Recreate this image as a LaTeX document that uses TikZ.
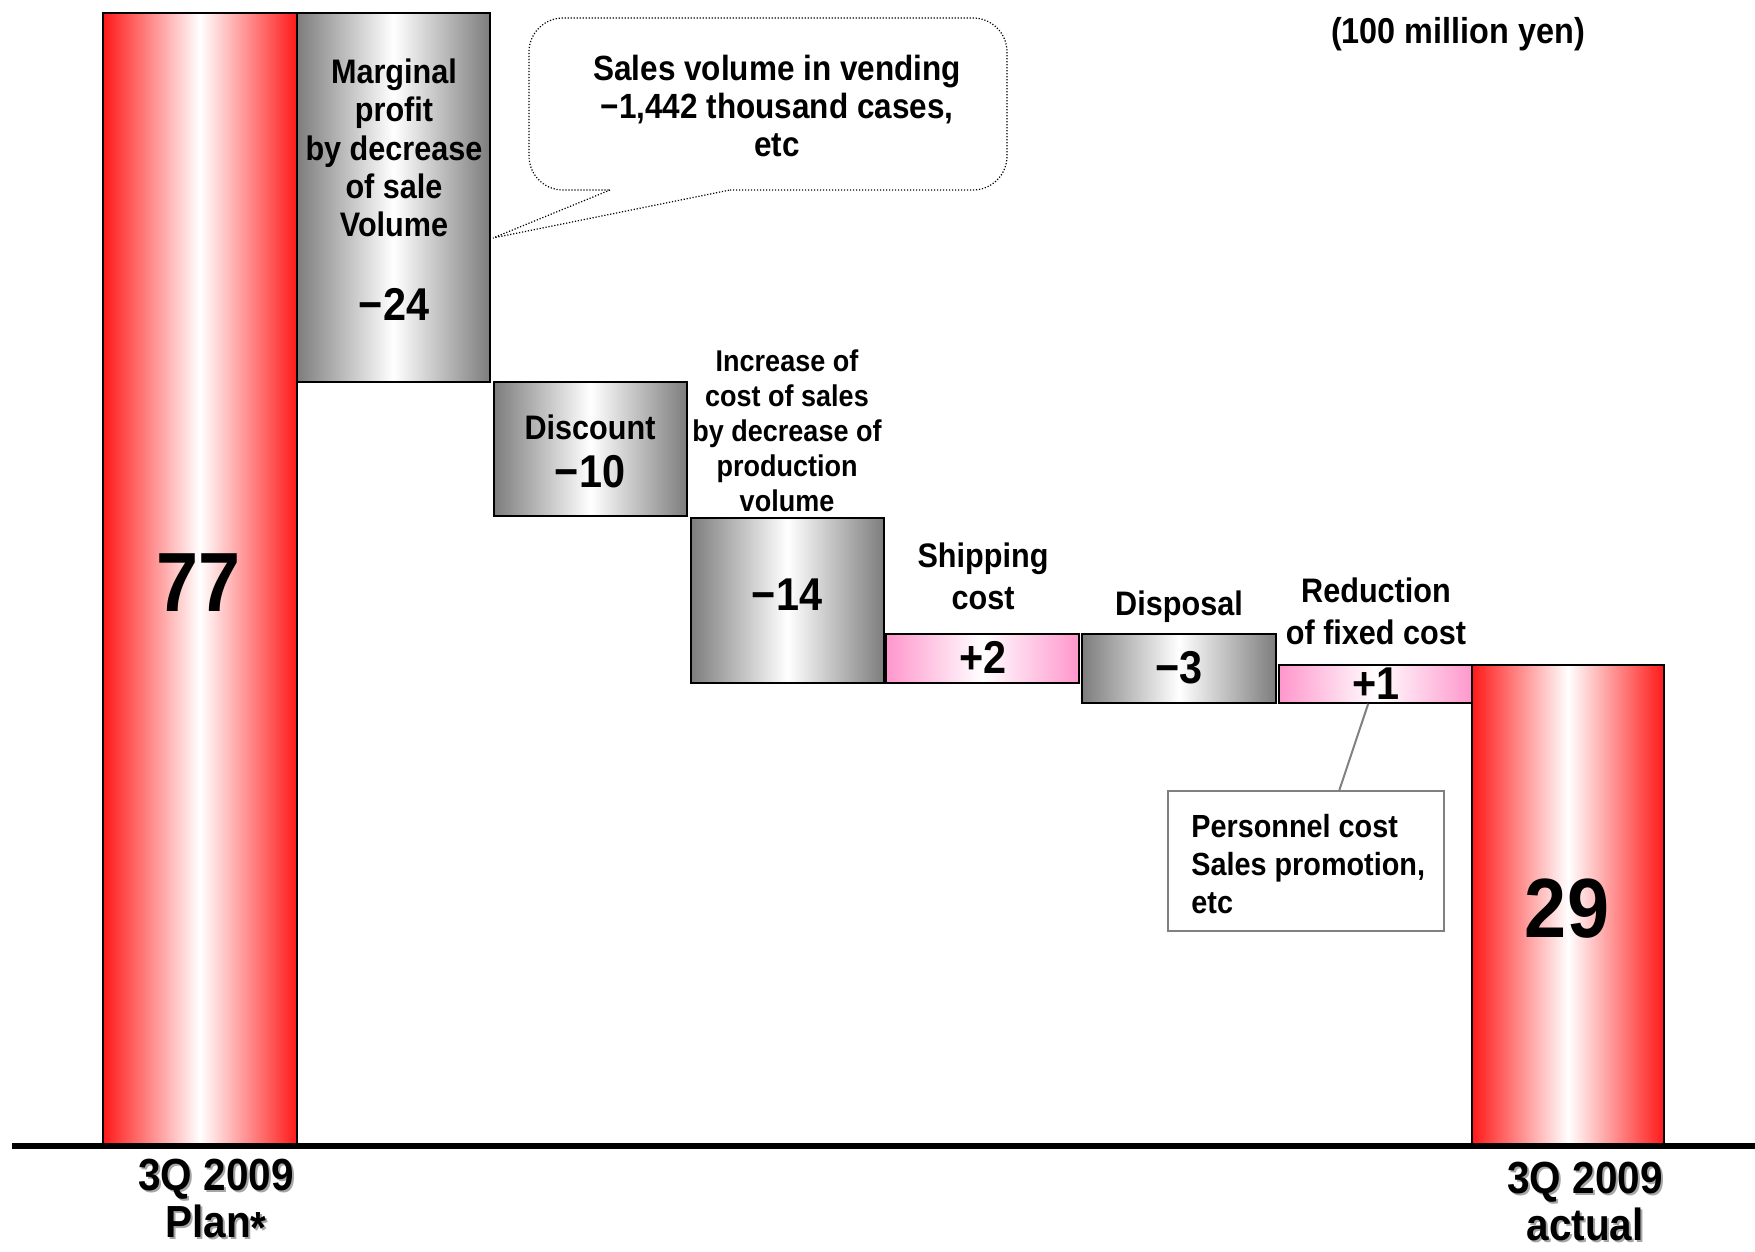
\documentclass[tikz,border=0pt]{standalone}
\usepackage{fontspec}
\setmainfont{Liberation Sans}[FakeStretch=0.9]
\usetikzlibrary{calc,fit}

\definecolor{barred}{RGB}{255,25,25}
\definecolor{bargray}{RGB}{125,125,125}
\definecolor{barpink}{RGB}{255,150,204}
\definecolor{notegray}{RGB}{128,128,128}

\tikzset{
  barbox/.style={draw=black, line width=0.8pt, inner sep=0pt},
  redbar/.style={barbox, left color=barred, right color=barred, middle color=white},
  graybar/.style={barbox, left color=bargray, right color=bargray, middle color=white},
  pinkbar/.style={barbox, left color=barpink, right color=barpink, middle color=white},
  txt/.style={inner sep=0pt, align=center, font=\bfseries\fontsize{17}{19.2}\selectfont},
  smalltxt/.style={inner sep=0pt, align=center, font=\bfseries\fontsize{15}{17.5}\selectfont},
  midtxt/.style={inner sep=0pt, align=center, font=\bfseries\fontsize{17}{21}\selectfont},
  numtxt/.style={inner sep=0pt, font=\bfseries\fontsize{23}{26}\selectfont},
  bignum/.style={inner sep=0pt, font=\bfseries\fontsize{42}{46}\selectfont},
  axislbl/.style={inner sep=0pt, align=center, font=\bfseries\fontsize{22.5}{23.5}\selectfont},
  callout/.style={draw=black, line width=0.6pt, dash pattern=on 0.6pt off 0.9pt},
}

\begin{document}
\begin{tikzpicture}[x=0.5pt, y=-0.5pt]
  \useasboundingbox (0,0) rectangle (1755,1252);

  % waterfall bars
  \node[redbar,  fit={(103,13) (297,1144)}]  (plan)   {};
  \node[graybar, fit={(297,13) (490,382)}]   (vol)    {};
  \node[graybar, fit={(494,382) (687,516)}]  (disc)   {};
  \node[graybar, fit={(691,518) (884,683)}]  (cost)   {};
  \node[pinkbar, fit={(886,634) (1079,683)}] (ship)   {};
  \node[graybar, fit={(1082,634) (1276,703)}](disp)   {};
  \node[pinkbar, fit={(1279,665) (1473,703)}](fixed)  {};
  \node[redbar,  fit={(1472,665) (1664,1144)}](actual) {};

  % base line
  \coordinate (axisL) at (12,1146);
  \coordinate (axisR) at (1755,1146);
  \draw[line width=3pt] (axisL) -- (axisR);

  % bar labels
  \node[bignum] (v77) at (199,583) {77};
  \node[txt] (volname) at (394,148) {Marginal\\profit\\by decrease\\of sale\\Volume};
  \node[numtxt] (v24) at (394,304) {−24};
  \node[txt] (discname) at (590,427) {Discount};
  \node[numtxt] (v10) at (590,472) {−10};
  \node[smalltxt] (costname) at (787,431) {Increase of\\cost of sales\\by decrease of\\production\\volume};
  \node[numtxt] (v14) at (787,595) {−14};
  \node[midtxt] (shipname) at (983,576) {Shipping\\cost};
  \node[numtxt] (v2) at (983,657) {+2};
  \node[midtxt] (dispname) at (1179,607) {Disposal};
  \node[numtxt] (v3) at (1179,668) {−3};
  \node[midtxt] (fixedname) at (1376,611) {Reduction\\of fixed cost};
  \node[numtxt] (v1) at (1376,684) {+1};
  \node[bignum] (v29) at (1567,909) {29};

  % unit
  \node[txt, font=\bfseries\fontsize{18}{20}\selectfont] (unit) at (1458,34) {(100 million yen)};

  % callout for sales volume
  \node[txt, font=\bfseries\fontsize{17.5}{19}\selectfont] (calltext) at (777,106)
    {Sales volume in vending\\−1,442 thousand cases,\\etc};
  \coordinate (cbl) at (610,190);
  \coordinate (cbr) at (730,190);
  \coordinate (ctip) at (493,238);
  \draw[callout, rounded corners=17pt] (cbr) -- (1007,190) -- (1007,18) -- (529,18) -- (529,190) -- (cbl);
  \draw[callout] (cbl) -- (ctip) -- (cbr);

  % note for fixed cost
  \node[draw=notegray, line width=1pt, inner sep=0pt, fit={(1168,791) (1444,931)}] (note) {};
  \node[inner sep=0pt, anchor=west, align=left, font=\bfseries\fontsize{16}{19}\selectfont] (notetext)
    at (1191,864) {Personnel cost\\Sales promotion,\\etc};
  \draw[notegray, line width=1pt]
    ($(fixed.south west)!0.46!(fixed.south east)$) -- ($(note.north west)!0.62!(note.north east)$);

  % axis labels with drop shadow
  \node[axislbl, text=black!35] (planshadow) at (218,1203) {3Q 2009\\Plan{\raisebox{-0.25ex}{*}}};
  \node[axislbl] (planlbl) at (216,1201) {3Q 2009\\Plan{\raisebox{-0.25ex}{*}}};
  \node[axislbl, text=black!35] (actshadow) at (1587,1203) {3Q 2009\\actual};
  \node[axislbl] (actlbl) at (1585,1201) {3Q 2009\\actual};
\end{tikzpicture}
\end{document}
